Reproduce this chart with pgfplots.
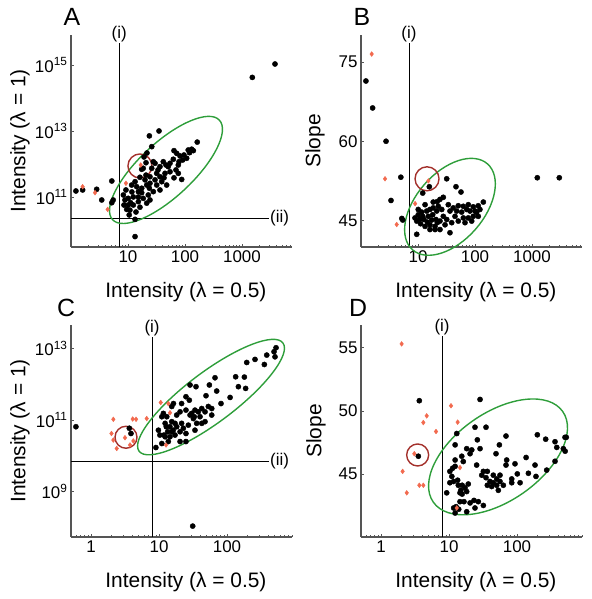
\documentclass[border=0pt]{standalone}
\usepackage{fontspec}
\setmainfont{Liberation Sans}
\usepackage{pgfplots}
\pgfplotsset{compat=1.18}
\definecolor{ptred}{HTML}{F26A4F}
\definecolor{ellgreen}{HTML}{2E9E3A}
\definecolor{circred}{HTML}{A3302B}
\definecolor{axgray}{HTML}{555555}
\pgfplotsset{
 mypanel/.style={
  scale only axis, width=221bp, height=212bp,
  axis lines*=left,
  axis line style={axgray, line width=1.3bp},
  clip=false,
  tick style={axgray, line width=0.6bp},
  tick align=inside,
  major tick length=3bp, minor tick length=2bp,
  yminorticks=false,
  tick label style={font=\fontsize{17}{17}\selectfont},
  label style={font=\fontsize{21}{24}\selectfont},
  /pgf/number format/assume math mode=true,
  xlabel={Intensity (λ = 0.5)},
  xlabel style={at={(axis description cs:0.52,0)}, anchor=center, yshift=-45bp},
 },
}
\tikzset{
 refline/.style={black, line width=0.9bp},
 lab/.style={font=\fontsize{17}{17}\selectfont, inner sep=1bp},
 ell/.style={ellgreen, line width=1.4bp},
 circ/.style={circred, line width=1.4bp},
}
\begin{document}
\begin{tikzpicture}
\path[use as bounding box] (0,0) rectangle (592bp,599bp);
% ---------------- A
\begin{axis}[mypanel, xmode=log, ymode=log, at={(71bp,352bp)}, anchor=south west,
 xmin=1, xmax=7540, ymin=3.05e9, ymax=8.1e15,
 xtick={10,100,1000}, xticklabels={10,100,1000},
 minor xtick={2,3,4,5,6,7,8,9,20,30,40,50,60,70,80,90,200,300,400,500,600,700,800,900,2000,3000,4000,5000,6000,7000},
 ytick={1e11,1e13,1e15}, yticklabels={10\textsuperscript{11},10\textsuperscript{13},10\textsuperscript{15}},
 ylabel={Intensity (λ = 1)},
 ylabel style={at={(axis description cs:0,0.5)}, anchor=center, yshift=51bp},
]
\draw[refline] (axis cs:7,3.05e9) -- (axis cs:7,4.6e15);
\draw[refline] (axis cs:1,2.3e10) -- (axis cs:2980,2.3e10);
\node[lab, anchor=south] at (axis cs:7,4.6e15) {(i)};
\node[lab, anchor=west] at (axis cs:2980,2.3e10) {(ii)};
\addplot[only marks, mark=*, mark size=2.6bp, mark options={draw=black, fill=black}] coordinates {
(23.7,7.1e12) (35.0,1.0e13) (164,4.6e12) (131,2.8e12) (114,2.65e12) (96,1.87e12) (81.7,1.75e12) (71.5,2.1e12) (64.1,2.53e12) (107,1.49e12) (78.5,1.17e12) (62.4,1.39e12) (54.6,1.05e12) (46.4,9.3e11) (36.4,8.3e11) (29.8,1.05e12) (26.1,3.35e12) (27.8,1.17e12) (18.5,7.4e11) (20.7,4.6e11) (16.2,3.95e11) (13.3,2.9e11) (11.6,2.3e11) (9.2,1.63e11) (8.3,1.15e11) (8.85,8.1e10) (10.1,5.7e10) (10.8,4.0e10) (12.4,1.0e11) (15.2,1.45e11) (17.4,1.84e11) (21.3,2.3e11) (24.3,2.6e11) (29.8,3.3e11) (36.4,4.1e11) (44.6,5.2e11) (54.6,5.8e11) (69.5,6.6e11) (76.3,9.3e11) (47.7,2.3e11) (36.4,1.63e11) (27.8,1.45e11) (22.7,1.15e11) (18.5,9.1e10) (15.2,7.2e10) (12.4,5.7e10) (16.2,4.9e10) (21.3,6.5e10) (10.5,2.85e10) (13.3,2.1e10) (13.3,6.3e9) (17.4,6.9e11) (24.3,4.1e11) (31.9,5.2e11) (15.2,1.0e11) (10.1,9.1e10) (11.1,6.7e10) (23.7,1.84e11) (31.9,2.3e11) (39.0,2.9e11) (41.6,1.17e12) (50.9,8.3e11) (76.3,5.2e11) (87.5,3.4e11) (91.2,1.32e12) (120,2.2e12) (140,2.53e12) (20.7,1.09e12) (26.1,7.4e11) (19.9,3.3e11) (14.2,2.05e11) (17.4,1.35e11) (8.5,5.7e10) (9.5,4.2e10) (5.2,3.05e11) (5.2,6.7e10) (5.5,8.1e10) (3.46,8.1e10) (2.82,1.71e11) (1.6,1.63e11) (1.22,1.52e11) (1517,4.2e14) (3793,1.07e15) (33.6,6.6e11) (42.8,3.8e11) (64.1,3.8e11) (24.3,8.1e10) (13.8,3.5e10) (11.7,1.42e11) (19.1,1.63e12) (21.5,2.15e12)
};
\addplot[only marks, mark=diamond*, mark size=2.4bp, mark options={draw=ptred, fill=ptred}] coordinates {(1.6,2.05e11) (2.64,1.35e11) (4.4,4.2e10) (9.2,2.6e11) (16.7,9.3e11)};
\draw[ell, rotate around={43:(axis cs:46.4,6.6e11)}] (axis cs:46.4,6.6e11) ellipse [x radius=73bp, y radius=27bp];
\draw[circ] (axis cs:16.2,8.7e11) circle [radius=12bp];
\end{axis}
% ---------------- B
\begin{axis}[mypanel, xmode=log, at={(361bp,352bp)}, anchor=south west,
 xmin=1, xmax=7540, ymin=40, ymax=80.1,
 xtick={10,100,1000}, xticklabels={10,100,1000},
 minor xtick={2,3,4,5,6,7,8,9,20,30,40,50,60,70,80,90,200,300,400,500,600,700,800,900,2000,3000,4000,5000,6000,7000},
 ytick={45,60,75},
 ylabel={Slope},
 ylabel style={at={(axis description cs:0,0.5)}, anchor=center, yshift=46bp},
]
\draw[refline] (axis cs:6.95,40) -- (axis cs:6.95,78.6);
\node[lab, anchor=south] at (axis cs:6.95,78.6) {(i)};
\addplot[only marks, mark=*, mark size=2.6bp, mark options={draw=black, fill=black}] coordinates {
(1.22,71.4) (1.6,66.3) (2.75,60.0) (5.0,53.2) (3.36,48.8) (5.2,45.4) (5.4,45.1) (15.8,51.4) (31.9,52.9) (1239,53.1) (3013,53.1)
(12.1,50.2) (46.4,51.4) (56.8,50.4) (27.8,49.4) (24.3,49.0) (21.8,48.6) (18.5,48.5) (13.3,48.0) (10.1,47.1) (140,48.5) (114,47.8) (93.3,47.6) (76.3,48.0) (62.4,47.7) (50.9,47.8) (41.6,47.4) (34.0,48.0) (36.4,46.8) (44.6,45.8) (50.9,44.9) (66.8,44.6) (76.3,45.5) (93.3,45.8) (107,46.5) (122,47.1) (81.7,46.8) (36.4,42.7) (9.5,42.4) (24.3,43.3) (19.9,43.9) (16.2,44.2) (13.3,43.9) (11.1,44.4) (9.5,44.9) (8.85,45.5) (10.8,45.3) (12.7,45.2) (15.2,45.8) (18.1,46.1) (21.3,46.8) (22.7,47.7) (26.1,47.1) (27.8,45.8) (31.9,45.2) (24.3,44.9) (20.7,45.2) (17.4,45.1) (14.6,44.7) (12.1,45.8) (10.1,46.1) (11.6,46.6) (14.2,46.8) (16.2,47.1) (18.5,47.4) (19.9,43.3) (16.2,43.3) (21.8,44.6) (29.8,44.2) (39.0,44.6) (62.4,45.5) (58.4,46.6) (47.7,46.8) (71.5,47.1) (100,46.8) (87.5,44.9) (114,45.8)
};
\addplot[only marks, mark=diamond*, mark size=2.4bp, mark options={draw=ptred, fill=ptred}] coordinates {(1.54,76.5) (2.64,52.9) (4.23,44.25) (8.9,48.2) (15.2,52.5)};
\draw[ell, rotate around={49:(axis cs:36.4,47.6)}] (axis cs:36.4,47.6) ellipse [x radius=57bp, y radius=34bp];
\draw[circ] (axis cs:14.4,52.9) circle [radius=12bp];
\end{axis}
% ---------------- C
\begin{axis}[mypanel, xmode=log, ymode=log, at={(71bp,62bp)}, anchor=south west,
 xmin=0.508, xmax=903, ymin=5.3e7, ymax=4.6e13,
 xtick={1,10,100}, xticklabels={1,10,100},
 minor xtick={0.6,0.7,0.8,0.9,2,3,4,5,6,7,8,9,20,30,40,50,60,70,80,90,200,300,400,500,600,700,800,900},
 ytick={1e9,1e11,1e13}, yticklabels={10\textsuperscript{9},10\textsuperscript{11},10\textsuperscript{13}},
 ylabel={Intensity (λ = 1)},
 ylabel style={at={(axis description cs:0,0.5)}, anchor=center, yshift=51bp},
]
\draw[refline] (axis cs:7.9,5.3e7) -- (axis cs:7.9,2.1e13);
\draw[refline] (axis cs:0.508,7.1e9) -- (axis cs:415,7.1e9);
\node[lab, anchor=south] at (axis cs:7.9,2.1e13) {(i)};
\node[lab, anchor=west] at (axis cs:415,7.1e9) {(ii)};
\addplot[only marks, mark=*, mark size=2.6bp, mark options={draw=black, fill=black}] coordinates {
(526,1.06e13) (491,8.2e12) (508,5.9e12) (384,6.6e12) (354,3.6e12) (258,5.0e12) (195,4.1e12) (134,1.63e12) (180,1.6e12) (147,8.6e11) (188,7.7e11) (111,4.3e11) (81.6,2.9e11) (66.6,1.53e12) (55,9.6e11) (35,8.6e11) (28.6,9.6e11) (49.1,4.8e11) (70.5,6.5e11) (24.9,4.5e11) (27.9,3.6e11) (21.5,2.9e11) (16.3,2.9e11) (15.4,2.4e11) (20.4,1.7e11) (18.2,1.38e11) (24.9,1.9e11) (30.2,1.54e11) (33.8,1.9e11) (37.8,1.7e11) (42.5,2.1e11) (47.5,1.7e11) (53.1,2.4e11) (59.6,2.1e11) (40.1,1.24e11) (33.0,1.24e11) (47.5,9.0e10) (35.8,8.1e10) (13.0,1.24e11) (11.0,1.24e11) (12.3,8.1e10) (15.4,9.0e10) (14.5,6.5e10) (16.2,5.2e10) (18.2,6.5e10) (20.4,4.7e10) (22.8,5.9e10) (24.9,4.2e10) (17.2,3.8e10) (14.5,3.4e10) (12.3,3.4e10) (10.3,3.8e10) (9.8,5.2e10) (11.0,2.2e10) (9.0,1.7e10) (13.7,2.5e10) (20.4,2.5e10) (24.9,2.5e10) (33.8,5.2e10) (42.5,8.1e10) (27.0,7.2e10) (11.6,1.54e11) (28.6,1.38e11) (17.2,8.1e10) (21.5,8.1e10) (15.4,4.7e10) (59.6,1.38e11) (32,1.1e11) (12.8,6.5e10) (13.4,4.7e10) (11.8,3.8e10) (0.60,6.5e10) (31.3,1.07e8) (3.66,5.9e10) (3.87,4.2e10)
};
\addplot[only marks, mark=diamond*, mark size=2.4bp, mark options={draw=ptred, fill=ptred}] coordinates {(2.13,1.05e11) (4.1,1.07e11) (4.6,1.05e11) (6.6,1.1e11) (10.6,3.1e11) (13.7,2.9e11) (14.5,1.6e11) (12.7,2.0e10) (3.16,3.2e10) (2.13,2.75e10) (2.39,1.6e10) (3.75,2.0e10) (4.19,2.6e10) (2.0,4.2e10)};
\draw[ell, rotate around={37:(axis cs:58.2,4.4e11)}] (axis cs:58.2,4.4e11) ellipse [x radius=90bp, y radius=25bp];
\draw[circ] (axis cs:3.27,3.3e10) circle [radius=11bp];
\end{axis}
% ---------------- D
\begin{axis}[mypanel, xmode=log, at={(361bp,62bp)}, anchor=south west,
 xmin=0.508, xmax=903, ymin=40, ymax=56.8,
 xtick={1,10,100}, xticklabels={1,10,100},
 minor xtick={0.6,0.7,0.8,0.9,2,3,4,5,6,7,8,9,20,30,40,50,60,70,80,90,200,300,400,500,600,700,800,900},
 ytick={45,50,55},
 ylabel={Slope},
 ylabel style={at={(axis description cs:0,0.5)}, anchor=center, yshift=45bp},
]
\draw[refline] (axis cs:7.9,40) -- (axis cs:7.9,55.9);
\node[lab, anchor=south] at (axis cs:7.9,55.9) {(i)};
\addplot[only marks, mark=*, mark size=2.6bp, mark options={draw=black, fill=black}] coordinates {
(3.66,50.8) (28.6,50.9) (24.1,48.7) (35,48.7) (13.0,48.2) (12.3,47.3) (18.2,47.0) (21.6,46.9) (20.4,46.6) (26.1,47.7) (28.6,47.0) (55,47.3) (68.9,48.0) (49.1,46.6) (199,48.1) (264,47.75) (362,47.55) (508,47.9) (530,47.9) (384,47.1) (480,47.0) (510,46.8) (362,46.0) (273,45.3) (184,45.7) (136,46.3) (147,45.05) (190,44.8) (111,44.3) (83.6,44.3) (68.9,45.7) (56.2,44.9) (56.2,44.4) (50.3,44.6) (44.8,44.3) (40.1,44.4) (36.6,44.1) (42.4,44.0) (53.1,43.7) (62.9,44.1) (35,44.7) (30.3,44.9) (32,45.2) (36.6,45.2) (44.8,44.9) (50.3,44.1) (25.5,45.7) (12.3,46.1) (15.4,46.4) (16.2,45.98) (10.3,45.2) (11.3,45.45) (12.3,45.6) (11.0,44.8) (11.7,44.4) (9.25,43.5) (13.7,44.1) (14.9,43.7) (17.2,43.9) (18.2,43.6) (14.5,43.5) (15.6,43.4) (19.2,44.2) (14.5,42.8) (16.6,42.8) (20.4,42.7) (23.3,42.9) (27.0,42.8) (32,42.5) (24.1,42.3) (12.7,42.4) (11.7,42.3) (13.9,42.2) (18.2,42.0) (12.3,41.9) (15.6,44.1) (13.4,44.5) (10.3,44.3) (70.5,46.1) (93.4,45.8) (83.6,44.6) (101,45.0) (3.54,46.4)
};
\addplot[only marks, mark=diamond*, mark size=2.4bp, mark options={draw=ptred, fill=ptred}] coordinates {(2.01,55.3) (4.7,49.6) (4.19,49.07) (6.44,48.36) (10.7,50.4) (13.4,49.1) (14.5,45.5) (13.0,42.3) (3.09,46.6) (2.08,45.2) (3.66,44.1) (4.19,44.1) (2.39,43.5)};
\draw[ell, rotate around={35:(axis cs:52.6,46.35)}] (axis cs:52.6,46.35) ellipse [x radius=79bp, y radius=44bp];
\draw[circ] (axis cs:3.46,46.5) circle [radius=11bp];
\end{axis}
\node[font=\fontsize{25}{25}\selectfont] at (72bp,582bp) {A};
\node[font=\fontsize{25}{25}\selectfont] at (362bp,582bp) {B};
\node[font=\fontsize{25}{25}\selectfont] at (66bp,291bp) {C};
\node[font=\fontsize{25}{25}\selectfont] at (358bp,291bp) {D};
\end{tikzpicture}
\end{document}
